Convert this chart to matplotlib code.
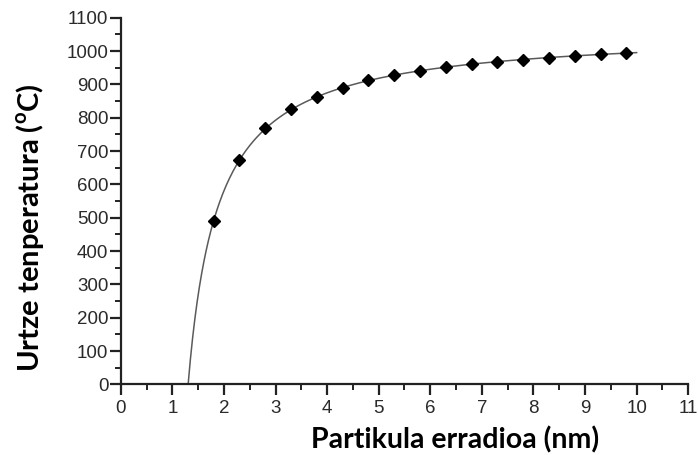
import numpy as np
import matplotlib.pyplot as plt
from matplotlib.ticker import MultipleLocator

plt.rcParams['mathtext.fontset'] = 'custom'
plt.rcParams['mathtext.rm'] = 'Lato:bold'

# particle radius (nm) and melting temperature (C)
radius = [1.8, 2.3, 2.8, 3.3, 3.8, 4.3, 4.8, 5.3, 5.8, 6.3, 6.8, 7.3, 7.8, 8.3, 8.8, 9.3, 9.8]
temp = [491, 672, 768, 825, 862, 888, 912, 929, 941, 952, 961, 968, 974, 980, 985, 991, 995]

xticks = list(range(0, 12))
yticks = list(range(0, 1101, 100))

# fit T = A - B/(r - c) to the points for the drawn curve
r = np.array(radius)
t = np.array(temp)
best = None
for c in np.linspace(0.0, 1.7, 1701):
    M = np.column_stack([np.ones_like(r), -1.0 / (r - c)])
    coef, res, _, _ = np.linalg.lstsq(M, t, rcond=None)
    err = np.sum((M @ coef - t) ** 2)
    if best is None or err < best[0]:
        best = (err, c, coef)
_, c0, (A, B) = best
r0 = c0 + B / A
rr = np.linspace(r0, 10.0, 400)
tt = A - B / (rr - c0)

fig = plt.figure(figsize=(6.98, 4.55), dpi=100)
ax = fig.add_axes([0.173, 0.155, 0.813, 0.806])

ax.plot(rr, tt, color='#5a5a5a', lw=1.1, zorder=2)
ax.plot(radius, temp, 'D', color='black', ms=6.5, zorder=3)

ax.set_xlim(0, 11)
ax.set_ylim(0, 1100)
ax.set_xticks(xticks)
ax.set_yticks(yticks)
ax.xaxis.set_minor_locator(MultipleLocator(0.5))
ax.yaxis.set_minor_locator(MultipleLocator(50))

for s in ['top', 'right']:
    ax.spines[s].set_visible(False)
for s in ['left', 'bottom']:
    ax.spines[s].set_linewidth(1.6)
    ax.spines[s].set_color('#222222')

ax.tick_params(axis='both', which='major', direction='out', length=8, width=1.6,
               colors='#222222', labelsize=13.5, labelcolor='#2a2a2a')
ax.tick_params(axis='both', which='minor', direction='out', length=4, width=1.4,
               colors='#222222')
ax.tick_params(axis='y', which='major', pad=1)
ax.tick_params(axis='x', which='major', pad=3)
for lab in ax.get_xticklabels() + ax.get_yticklabels():
    lab.set_family('Liberation Sans')

fig.text(0.652, 0.033, 'Partikula erradioa (nm)', family='Lato', fontweight='bold',
         fontsize=20.5, ha='center', va='center', color='black')
fig.text(0.043, 0.50, r'Urtze tenperatura ($^{\mathrm{o}}$C)', family='Lato',
         fontweight='bold', fontsize=21, ha='center', va='center', rotation=90,
         color='black')

fig.savefig('out.png', dpi=100)
